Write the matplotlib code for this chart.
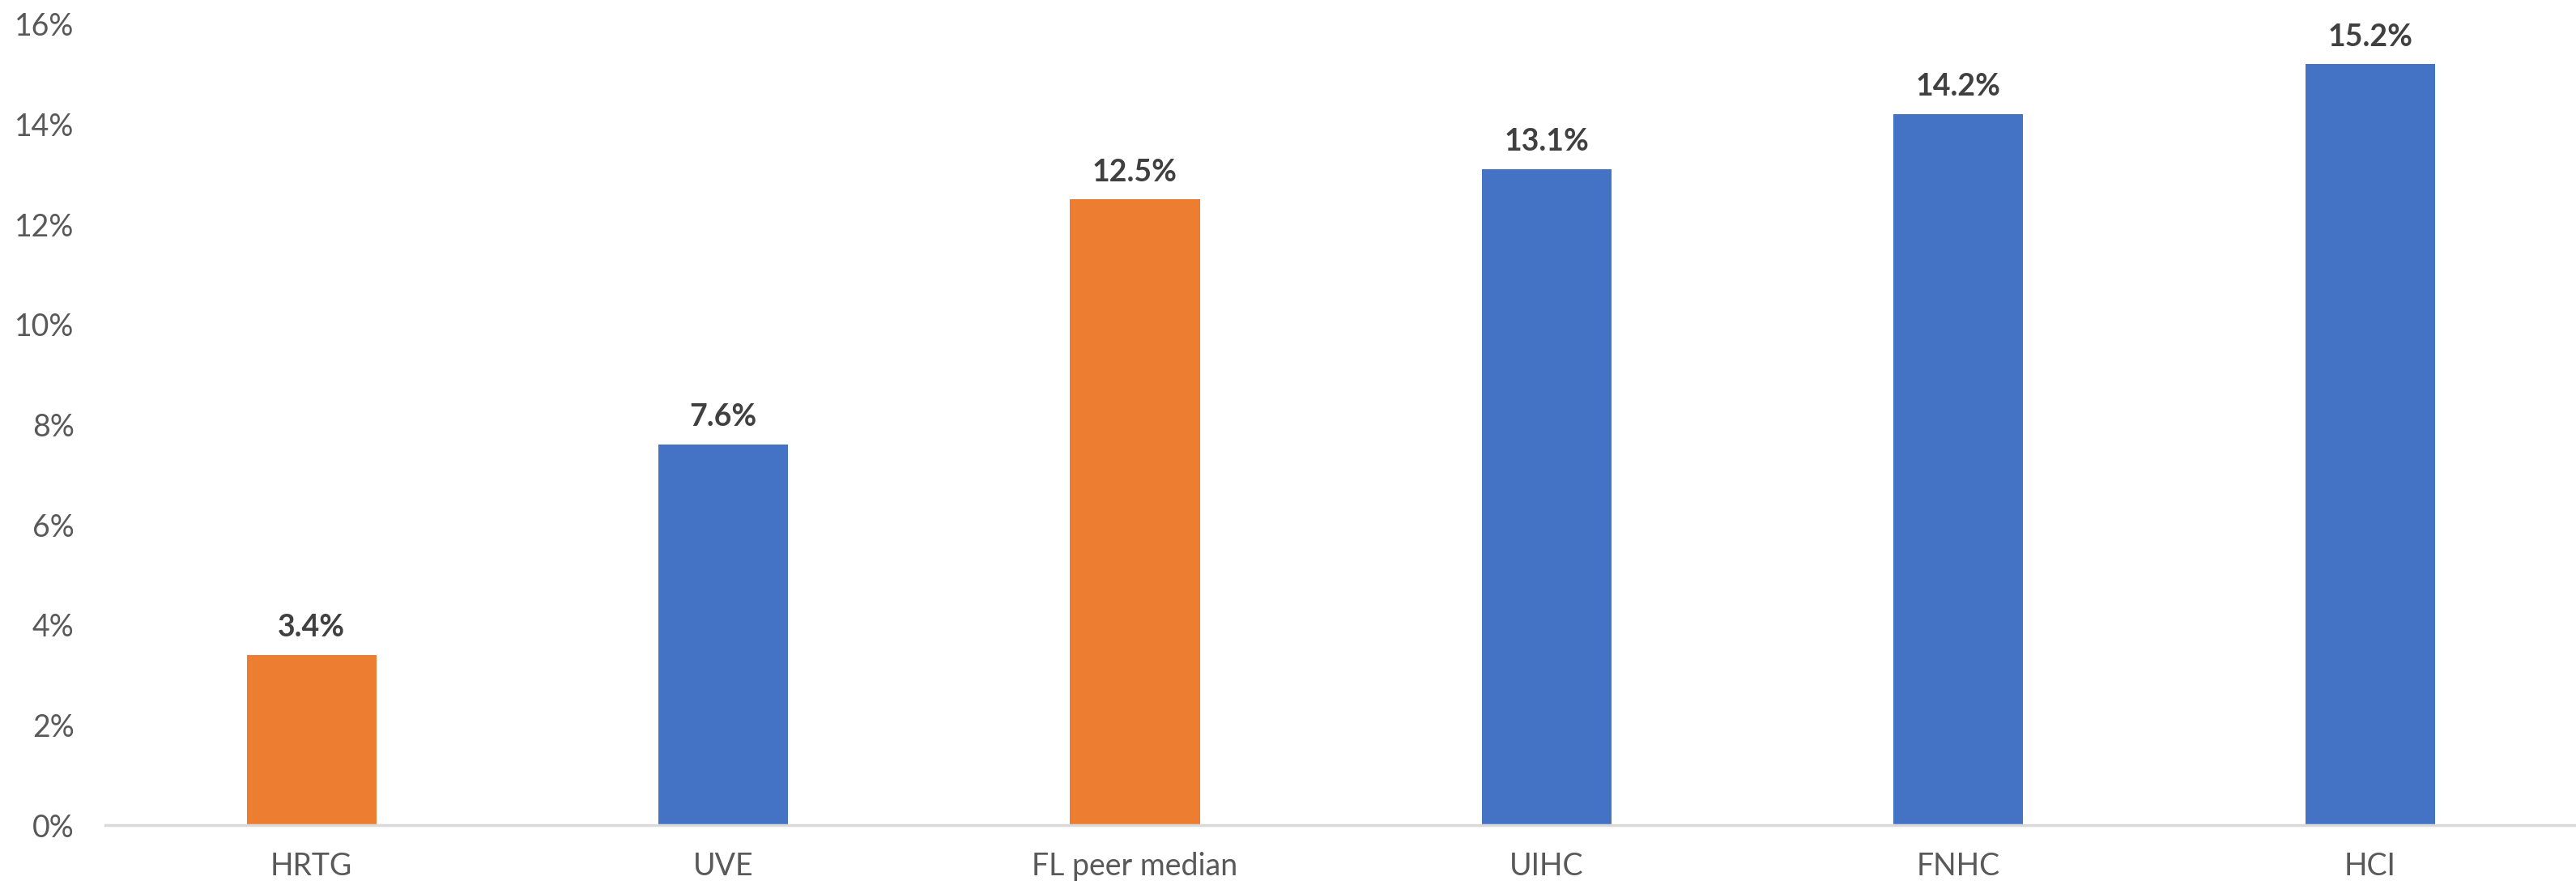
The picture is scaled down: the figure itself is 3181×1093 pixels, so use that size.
import matplotlib
matplotlib.use("Agg")
import matplotlib.pyplot as plt
from matplotlib.ticker import FuncFormatter

categories = ["HRTG", "UVE", "FL peer median", "UIHC", "FNHC", "HCI"]
values = [3.4, 7.6, 12.5, 13.1, 14.2, 15.2]
highlight = [True, False, True, False, False, False]
yticks = [0, 2, 4, 6, 8, 10, 12, 14, 16]

ORANGE = "#ED7D31"
BLUE = "#4472C4"

plt.rcParams['font.family'] = ['Lato', 'DejaVu Sans']

fig = plt.figure(figsize=(31.81, 10.93), dpi=100)
ax = fig.add_axes([0.041, 0.0677, 0.959, 0.905])

colors = [ORANGE if h else BLUE for h in highlight]
x = list(range(len(categories)))
bars = ax.bar(x, values, width=0.315, color=colors, zorder=2)

for b, v in zip(bars, values):
    ax.annotate(f"{v:.1f}%", (b.get_x() + b.get_width() / 2, v),
                xytext=(0, 12), textcoords="offset points",
                ha="center", va="bottom", fontsize=27, fontweight="bold",
                color="#404040")

ax.set_xlim(-0.5, len(categories) - 0.5)
ax.set_ylim(0, 16)
ax.set_yticks(yticks)
ax.yaxis.set_major_formatter(FuncFormatter(lambda v, p: f"{v:.0f}%"))
ax.set_xticks(x)
ax.set_xticklabels(categories)

for s in ["top", "right", "left"]:
    ax.spines[s].set_visible(False)
ax.spines["bottom"].set_color("#D9D9D9")
ax.spines["bottom"].set_linewidth(2.5)

ax.tick_params(axis="y", length=0, pad=28, labelsize=27, labelcolor="#595959")
ax.tick_params(axis="x", length=0, pad=24, labelsize=27, labelcolor="#595959")

fig.savefig("out.png", dpi=100, facecolor="white")
